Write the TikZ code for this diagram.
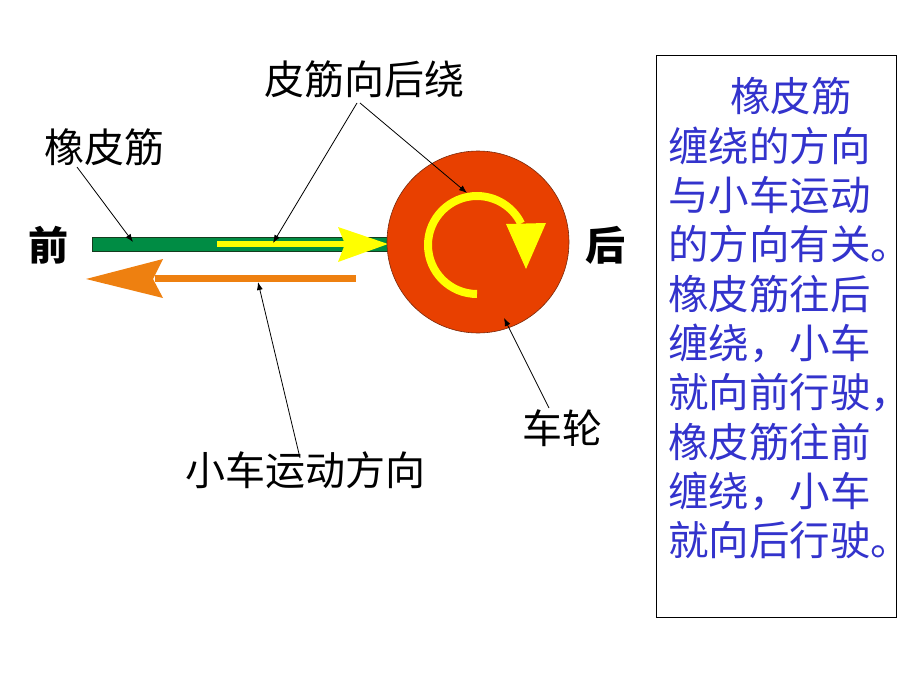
\documentclass[tikz,border=0pt]{standalone}
\usepackage{fontspec}
\newfontfamily\cjk{Noto Sans CJK SC}
\usetikzlibrary{arrows.meta}
\definecolor{barGreen}{RGB}{0,140,68}
\definecolor{barEdge}{RGB}{20,60,30}
\definecolor{wheelRed}{RGB}{232,64,0}
\definecolor{wheelEdge}{RGB}{120,40,10}
\definecolor{arrOrange}{RGB}{238,128,16}
\definecolor{arrYellow}{RGB}{255,255,0}
\definecolor{txtBlue}{RGB}{51,51,204}
\tikzset{
  lbl/.style={inner sep=0pt, anchor=base, font=\cjk\fontsize{40}{48}\selectfont},
  boxline/.style={inner sep=0pt, anchor=base west, text=txtBlue, font=\cjk\fontsize{40.5}{48}\selectfont},
  pointer/.style={draw=black, line width=0.8pt, -{Latex[length=8pt,width=6pt]}}
}
\begin{document}
\begin{tikzpicture}[x=1pt,y=-1pt]
\useasboundingbox (0,0) rectangle (920,690);
% green rubber band bar
\draw[fill=barGreen, draw=barEdge, line width=0.6pt] (92,237) rectangle (388,251);
% yellow arrow on bar
\fill[arrYellow] (217,241) rectangle (345,247);
\fill[arrYellow] (338,227) -- (388,244) -- (338,262) -- (345,244) -- cycle;
% orange arrow
\fill[arrOrange] (155,275) rectangle (356,282);
\fill[arrOrange] (86,279) -- (163,259) -- (153,279) -- (163,298) -- cycle;
% wheel
\node[circle, minimum size=182pt, inner sep=0pt, fill=wheelRed, draw=wheelEdge, line width=0.6pt] (wheel) at (478,242) {};
% yellow curved arrow
\draw[arrYellow, line width=8pt] (477,294) arc[start angle=90, end angle=334, radius=49];
\fill[arrYellow] (506,224) -- (546,223) -- (526,269) -- cycle;
% labels
\node[lbl] (pijin) at (364,95) {皮筋向后绕};
\node[lbl] (xiang) at (104,162) {橡皮筋};
\node[lbl, font=\cjk\bfseries\fontsize{40}{48}\selectfont] (qian) at (48,260) {前};
\node[lbl, font=\cjk\bfseries\fontsize{40}{48}\selectfont] (hou) at (605,260) {后};
\node[lbl] (lun) at (562,443) {车轮};
\node[lbl] (dir) at (305,485) {小车运动方向};
% pointer coordinates
\coordinate (s1) at (77,167);  \coordinate (e1) at (133,242);
\coordinate (s2) at (357,103); \coordinate (e2) at (273,243);
\coordinate (s3) at (360,103); \coordinate (e3) at (467,193);
\coordinate (s4) at (549,408); \coordinate (e4) at (504,318);
\coordinate (s5) at (300,458); \coordinate (e5) at (258,282);
\draw[pointer] (s1) -- (e1);
\draw[pointer] (s2) -- (e2);
\draw[pointer] (s3) -- (e3);
\draw[pointer] (s4) -- (e4);
\draw[pointer] (s5) -- (e5);
% explanation box
\node[draw=black, line width=0.8pt, minimum width=240pt, minimum height=562pt, inner sep=0pt, anchor=north west] (box) at (656,55) {};
\node[boxline] (b1) at (730,112) {橡皮筋};
\node[boxline] (b2) at (668,161.3) {缠绕的方向};
\node[boxline] (b3) at (668,210.6) {与小车运动};
\node[boxline] (b4) at (668,259.9) {的方向有关。};
\node[boxline] (b5) at (668,309.2) {橡皮筋往后};
\node[boxline] (b6) at (668,358.5) {缠绕，小车};
\node[boxline] (b7) at (668,407.8) {就向前行驶，};
\node[boxline] (b8) at (668,457.1) {橡皮筋往前};
\node[boxline] (b9) at (668,506.4) {缠绕，小车};
\node[boxline] (b10) at (668,555.7) {就向后行驶。};
\end{tikzpicture}
\end{document}
